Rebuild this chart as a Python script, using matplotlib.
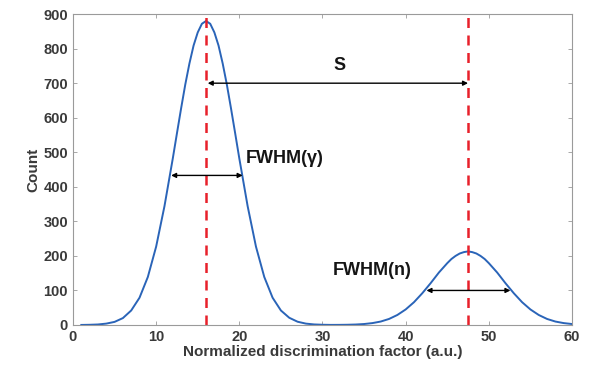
import numpy as np
import matplotlib
matplotlib.use('Agg')
import matplotlib.pyplot as plt

# Curve values (count vs normalized discrimination factor)
factor = [1, 2, 3, 4, 5, 6, 7, 8, 9, 10, 11, 12, 12.5, 13, 13.5, 14, 14.5, 15, 15.5, 16,
          16.5, 17, 17.5, 18, 18.5, 19, 19.5, 20, 21, 22, 23, 24, 25, 26, 27, 28, 29, 30,
          31, 32, 33, 34, 35, 36, 37, 38, 39, 40, 41, 42, 43, 44, 45, 45.5, 46, 46.5, 47,
          47.5, 48, 48.5, 49, 49.5, 50, 51, 52, 53, 54, 55, 56, 57, 58, 59, 60]
count = [0.2, 0.6, 1.5, 4, 9, 20, 42, 79, 139, 227, 344, 482, 555, 627, 696, 757, 809, 847, 872, 880,
         872, 847, 809, 757, 696, 627, 555, 482, 344, 227, 139, 79, 42, 21, 9.5, 4, 1.6, 0.7,
         0.3, 0.4, 0.7, 1.4, 2.8, 5.5, 10, 17.5, 29, 45, 66, 92, 121, 152, 179, 191, 200, 207, 211,
         213, 211, 207, 200, 191, 179, 152, 121, 92, 66, 45, 29, 17.5, 10, 5.5, 2.8]

peak_gamma = 16.0
peak_n = 47.5
fwhm_gamma = (11.8, 20.4, 433)   # x start, x end, height
fwhm_n = (42.5, 52.6, 100)
sep_y = 700

fams = ['Liberation Sans', 'DejaVu Sans']
plt.rcParams['font.family'] = fams

fig = plt.figure(figsize=(5.9, 3.71), dpi=100)
ax = fig.add_axes([0.1237, 0.124, 0.8458, 0.838])

ax.plot(factor, count, color='#2a64b8', lw=1.4)
for xp in (peak_gamma, peak_n):
    ax.plot([xp, xp], [0, 900], color='#e8202a', lw=1.8, ls=(0, (4, 3)))

arrow = dict(arrowstyle='<|-|>', color='black', lw=1.0, mutation_scale=7,
             shrinkA=0, shrinkB=0)
ax.annotate('', xy=(fwhm_gamma[0], fwhm_gamma[2]), xytext=(fwhm_gamma[1], fwhm_gamma[2]), arrowprops=arrow)
ax.annotate('', xy=(fwhm_n[0], fwhm_n[2]), xytext=(fwhm_n[1], fwhm_n[2]), arrowprops=arrow)
ax.annotate('', xy=(peak_gamma + 0.2, sep_y), xytext=(peak_n, sep_y), arrowprops=arrow)

tfont = dict(fontsize=13, fontweight='bold', color='#151515', family=fams)
ax.text(32.1, 752, 'S', ha='center', va='center', **tfont)
ax.text(20.8, 483, 'FWHM(γ)', ha='left', va='center', **tfont)
ax.text(31.2, 159, 'FWHM(n)', ha='left', va='center', **tfont)

ax.set_xlim(0, 60)
ax.set_ylim(0, 900)
ax.set_xticks(range(0, 61, 10))
ax.set_yticks(range(0, 901, 100))
ax.tick_params(direction='in', top=True, right=True, length=3, width=0.6,
               colors='#9a9a9a', labelcolor='#3a3a3a', labelsize=10.5)
for lab in ax.get_xticklabels() + ax.get_yticklabels():
    lab.set_fontweight('bold')
for sp in ax.spines.values():
    sp.set_color('#9a9a9a')
    sp.set_linewidth(0.8)

ax.set_xlabel('Normalized discrimination factor (a.u.)', fontsize=11, fontweight='bold',
              color='#3a3a3a', labelpad=1)
ax.set_ylabel('Count', fontsize=11, fontweight='bold', color='#3a3a3a', labelpad=2)

fig.savefig('out.png', dpi=100)
